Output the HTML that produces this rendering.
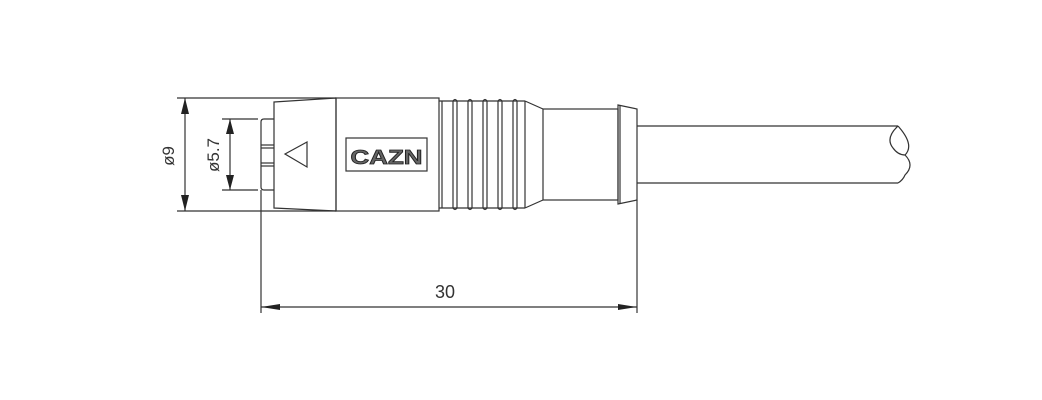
<!DOCTYPE html>
<html><head><meta charset="utf-8"><style>
html,body{margin:0;padding:0;background:#fff;}
svg{display:block;}
</style></head><body>
<svg width="1042" height="400" viewBox="0 0 1042 400" xmlns="http://www.w3.org/2000/svg">
<g fill="none" stroke="#333" stroke-width="1.2">
<!-- extension lines phi9 -->
<line x1="177" y1="98" x2="336" y2="98"/>
<line x1="177" y1="211" x2="336" y2="211"/>
<line x1="185" y1="98" x2="185" y2="211"/>
<!-- phi5.7 -->
<line x1="222" y1="119" x2="258" y2="119"/>
<line x1="222" y1="190" x2="258" y2="190"/>
<line x1="230" y1="119" x2="230" y2="190"/>
<!-- front pin -->
<path d="M274 119 H264 Q261 119 261 122 V187 Q261 190 264 190 H274"/>
<line x1="261" y1="145" x2="274" y2="145"/>
<line x1="261" y1="148" x2="274" y2="148"/>
<line x1="261" y1="163" x2="274" y2="163"/>
<line x1="261" y1="166" x2="274" y2="166"/>
<!-- cap -->
<path d="M274 102 L336 98 L336 211 L274 208 Z"/>
<polygon points="285,154 307,142 307,167"/>
<!-- body -->
<rect x="336" y="98" width="103" height="113"/>
<rect x="346" y="138" width="81" height="33"/>
<!-- ribbed -->
<path d="M439 101 H525 M439 208 H525"/>
<line x1="442" y1="101" x2="442" y2="208"/>
<path d="M453 101 Q455 98 457 101 V208 Q455 211 453 208 Z"/>
<path d="M468 101 Q470 98 472 101 V208 Q470 211 468 208 Z"/>
<path d="M483 101 Q485 98 487 101 V208 Q485 211 483 208 Z"/>
<path d="M498 101 Q500 98 502 101 V208 Q500 211 498 208 Z"/>
<path d="M513 101 Q515 98 517 101 V208 Q515 211 513 208 Z"/>
<line x1="525" y1="101" x2="525" y2="208"/>
<path d="M525 101 L543 109 M525 208 L543 200"/>
<!-- sleeve -->
<rect x="543" y="109" width="75" height="91"/>
<!-- flange -->
<path d="M618 105 L637 109 L637 200 L618 204 Z"/>
<line x1="620" y1="105" x2="620" y2="204"/>
<!-- cable -->
<path d="M637 126 H898 M637 183 H898"/>
<path d="M898 126 Q885 138 893 148 Q898 155 905 155 Q915 145 898 126"/>
<path d="M905 155 Q915 165 905 175 Q903 180 898 183"/>
<!-- extension lines 30 -->
<line x1="261" y1="190" x2="261" y2="313"/>
<line x1="637" y1="200" x2="637" y2="313"/>
<line x1="261" y1="307" x2="637" y2="307"/>
</g>
<g fill="#222">
<polygon points="185,98 181,114 189,114"/>
<polygon points="185,211 181,195 189,195"/>
<polygon points="230,119 226,134 234,134"/>
<polygon points="230,190 226,175 234,175"/>
<polygon points="261,307 280,304 280,310"/>
<polygon points="637,307 618,304 618,310"/>
</g>
<g font-family="Liberation Sans, sans-serif" fill="#333">
<text x="445" y="298" font-size="18" text-anchor="middle">30</text>
<text transform="translate(174,156) rotate(-90)" font-size="17" text-anchor="middle">ø9</text>
<text transform="translate(219,155) rotate(-90)" font-size="17" text-anchor="middle">ø5.7</text>
<text x="386.5" y="164" font-size="20" font-weight="bold" text-anchor="middle" fill="#666" stroke="#222" stroke-width="0.8" textLength="72" lengthAdjust="spacingAndGlyphs">CAZN</text>
</g>
</svg>
</body></html>
